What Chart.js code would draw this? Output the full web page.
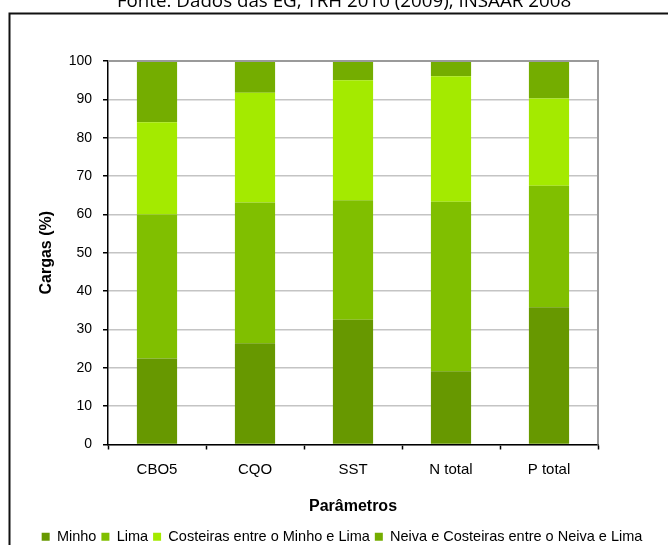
<!DOCTYPE html>
<html>
<head>
<meta charset="utf-8">
<script src="https://cdn.jsdelivr.net/npm/chart.js@4/dist/chart.umd.min.js"></script>
<style>
  html, body { margin: 0; padding: 0; background: #fff; overflow: hidden; }
  #wrap { position: relative; width: 668px; height: 545px; }
</style>
</head>
<body>
<div id="wrap"><canvas id="c" width="668" height="545"></canvas></div>
<script>
// Parâmetros e cargas (%) por região hidrográfica
const parametros = ['CBO5', 'CQO', 'SST', 'N total', 'P total'];
const minho     = [22.4, 26.4, 32.5, 19.1, 35.8];
const lima      = [37.6, 36.7, 31.2, 44.2, 31.7];
const costeiras = [24.0, 28.6, 31.3, 32.7, 22.7];
const neiva     = [16.0,  8.3,  5.0,  4.0,  9.8];

const seriesNames = ['Minho', 'Lima', 'Costeiras entre o Minho e Lima', 'Neiva e Costeiras entre o Neiva e Lima'];
const seriesColors = ['#679800', '#80bf00', '#a4ea00', '#74ad00'];

const yMin = 0, yMax = 100, yStep = 10;
const sourceNote = 'Fonte: Dados das EG, TRH 2010 (2009), INSAAR 2008';

const AXIS_FONT = 'Liberation Sans, Arial, sans-serif';

// Outer frame, source note and the grey plot border
const framePlugin = {
  id: 'frame',
  beforeDraw(chart) {
    const ctx = chart.ctx;
    ctx.save();
    ctx.fillStyle = '#fff';
    ctx.fillRect(0, 0, chart.width, chart.height);
    ctx.strokeStyle = '#111';
    ctx.lineWidth = 2;
    ctx.beginPath();
    ctx.moveTo(9.5, chart.height + 2);
    ctx.lineTo(9.5, 13.5);
    ctx.lineTo(chart.width + 2, 13.5);
    ctx.stroke();

    let size = 19;
    ctx.font = size + 'px "Open Sans"';
    while (ctx.measureText(sourceNote).width > 455 && size > 10) {
      size -= 0.25;
      ctx.font = size + 'px "Open Sans"';
    }
    ctx.fillStyle = '#000';
    ctx.textAlign = 'center';
    ctx.textBaseline = 'alphabetic';
    ctx.fillText(sourceNote, 344, 7);
    ctx.restore();
  },
  afterDatasetsDraw(chart) {
    const { ctx, chartArea: { left, top, right, bottom } } = chart;
    ctx.save();
    ctx.strokeStyle = '#9a9a9a';
    ctx.lineWidth = 2;
    ctx.beginPath();
    ctx.moveTo(left, top);
    ctx.lineTo(right, top);
    ctx.lineTo(right, bottom);
    ctx.stroke();
    ctx.restore();
  }
};

const seriesData = [minho, lima, costeiras, neiva];

new Chart(document.getElementById('c'), {
  type: 'bar',
  data: {
    labels: parametros,
    datasets: seriesData.map((vals, i) => ({
      label: seriesNames[i],
      data: vals,
      backgroundColor: seriesColors[i],
      borderWidth: 0,
      categoryPercentage: 1.0,
      barPercentage: 0.41
    }))
  },
  options: {
    responsive: false,
    devicePixelRatio: 1,
    animation: false,
    layout: { padding: { left: 16, right: 0, top: 61, bottom: -9 } },
    plugins: {
      tooltip: { enabled: false },
      legend: {
        position: 'bottom',
        labels: {
          boxWidth: 8,
          boxHeight: 8,
          padding: 5,
          color: '#000',
          font: { family: AXIS_FONT, size: 14.5 }
        }
      }
    },
    scales: {
      x: {
        stacked: true,
        grid: {
          display: true,
          drawOnChartArea: false,
          drawTicks: true,
          tickLength: 5,
          tickColor: '#000',
          tickWidth: 1.5,
          offset: true
        },
        border: { display: true, color: '#000', width: 1.5 },
        ticks: {
          color: '#000',
          font: { family: AXIS_FONT, size: 15 },
          padding: 11,
          maxRotation: 0
        },
        title: {
          display: true,
          text: 'Parâmetros',
          color: '#000',
          font: { family: AXIS_FONT, size: 16, weight: 'bold' },
          padding: { top: 0, bottom: 8 }
        },
        afterFit(scale) { scale.height = 80; }
      },
      y: {
        stacked: true,
        min: yMin,
        max: yMax,
        ticks: {
          stepSize: yStep,
          color: '#000',
          font: { family: AXIS_FONT, size: 14 },
          padding: 11
        },
        grid: {
          color: '#c4c4c4',
          lineWidth: 1.5,
          tickLength: 5,
          tickColor: '#000',
          tickWidth: 1.5
        },
        border: { display: true, color: '#000', width: 1.5 },
        title: {
          display: true,
          text: 'Cargas (%)',
          color: '#000',
          font: { family: AXIS_FONT, size: 16, weight: 'bold' },
          padding: { top: 21, bottom: 0 }
        },
        afterFit(scale) { scale.width = 92; }
      },
      // empty right-hand margin of the plot
      yRight: {
        position: 'right',
        min: yMin,
        max: yMax,
        grid: { display: false },
        border: { display: false },
        ticks: { display: false },
        afterFit(scale) { scale.width = 70; }
      }
    }
  },
  plugins: [framePlugin]
});
</script>
</body>
</html>
